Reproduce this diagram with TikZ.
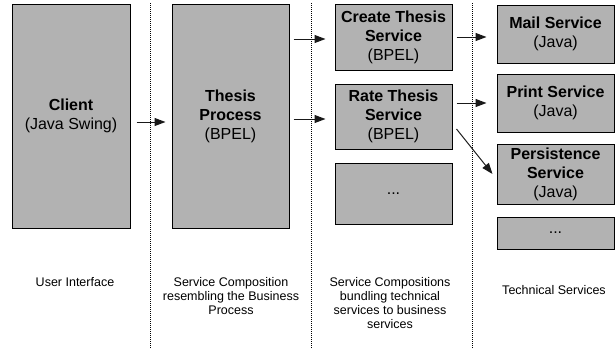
\documentclass[tikz,border=0pt]{standalone}
\usepackage{fontspec}
\setmainfont{Liberation Sans}
\usetikzlibrary{arrows.meta,calc}
\begin{document}
\begin{tikzpicture}[x=1pt,y=-1pt,
  box/.style={draw=black, line width=1pt, fill=black!30, inner sep=0pt,
    align=center, font=\fontsize{16}{19}\selectfont},
  lbl/.style={inner sep=0pt, align=center, anchor=north,
    font=\fontsize{12.5}{13.8}\selectfont},
  arr/.style={draw=black!90, line width=1pt, -{Triangle[length=11pt,width=8pt]}},
  sep/.style={draw=black, line width=1pt, dash pattern=on 1pt off 1pt}]
\useasboundingbox (0,0) rectangle (616,349);

% layer separators
\coordinate (s1t) at (150.7,3);   \coordinate (s1b) at (150.7,349);
\coordinate (s2t) at (311,3);     \coordinate (s2b) at (311,349);
\coordinate (s3t) at (472.5,3);   \coordinate (s3b) at (472.5,349);
\draw[sep] (s1t) -- (s1b);
\draw[sep] (s2t) -- (s2b);
\draw[sep] (s3t) -- (s3b);

% user interface
\node[box, minimum width=118pt, minimum height=224pt] (client) at (71,116)
  {\textbf{Client}\\(Java Swing)};

% business process
\node[box, minimum width=117pt, minimum height=224pt] (thesis) at (230.5,116)
  {\textbf{Thesis}\\\textbf{Process}\\(BPEL)};

% business services
\node[box, minimum width=117pt, minimum height=66pt] (create) at (393.5,37)
  {\textbf{Create Thesis}\\\textbf{Service}\\(BPEL)};
\node[box, minimum width=117pt, minimum height=65pt] (rate) at (393.5,116.5)
  {\textbf{Rate Thesis}\\\textbf{Service}\\(BPEL)};
\node[box, minimum width=117pt, minimum height=61pt] (more1) at (393.5,193.5) {...};

% technical services
\node[box, minimum width=117pt, minimum height=58pt] (mail) at (555.5,34)
  {\textbf{Mail Service}\\(Java)};
\node[box, minimum width=117pt, minimum height=58pt] (print) at (555.5,103)
  {\textbf{Print Service}\\(Java)};
\node[box, minimum width=117pt, minimum height=60pt] (persist) at (555.5,174)
  {\textbf{Persistence}\\\textbf{Service}\\(Java)};
\node[box, minimum width=117pt, minimum height=32pt] (more2) at (555.5,233) {...};

% calls
\draw[arr] ($(client.east)+(6,6)$) -- ($(thesis.west)+(-6,6)$);
\draw[arr] ($(thesis.east |- create.west)+(4,2)$) -- ($(create.west)+(-9,2)$);
\draw[arr] ($(thesis.east |- rate.west)+(4,2.5)$) -- ($(rate.west)+(-9,2.5)$);
\draw[arr] ($(create.east)+(4,0)$) -- ($(mail.west |- create.east)+(-10,0)$);
\draw[arr] ($(rate.east |- print.west)+(4,0)$) -- ($(print.west)+(-10,0)$);
\draw[arr] ($(rate.east)+(4,12.5)$) -- ($(persist.west)+(-4,0)$);

% layer captions
\node[lbl] (l1) at (75,277.5) {User Interface};
\node[lbl] (l2) at (231,277.5) {Service Composition\\resembling the Business\\Process};
\node[lbl] (l3) at (390,277.5) {Service Compositions\\bundling technical\\services to business\\services};
\node[lbl] (l4) at (554,285.5) {Technical Services};
\end{tikzpicture}
\end{document}
